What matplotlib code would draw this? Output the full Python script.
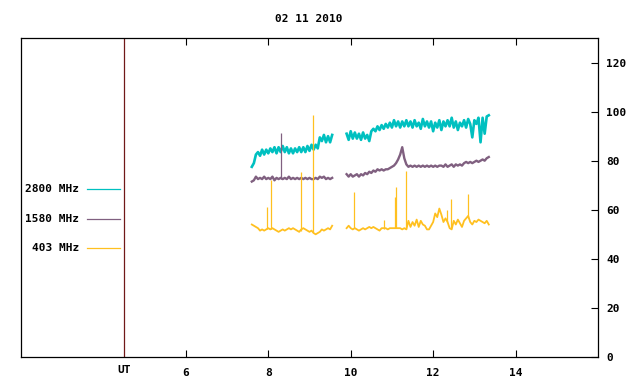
import numpy as np
import matplotlib
matplotlib.use("Agg")
import matplotlib.pyplot as plt
import matplotlib.transforms as mtransforms

# sampling of the two recording blocks (UT hours)
step = 0.05
start1 = 7.60
start2 = 9.90

# 2800 MHz flux, block 1 and block 2
f2800_a = [77.5, 79.0, 82.5, 83.5, 82.0, 84.5, 82.5, 84.5, 83.0, 85.0,
           83.5, 85.5, 83.0, 85.5, 83.5, 86.0, 83.5, 85.5, 83.0, 85.0,
           83.0, 85.0, 83.5, 85.5, 83.5, 85.5, 83.5, 86.0, 84.0, 86.5,
           84.5, 86.5, 85.0, 89.5, 88.0, 90.5, 87.5, 90.0, 87.5, 90.5]
f2800_b = [91.0, 88.5, 92.0, 89.0, 91.5, 89.0, 91.0, 88.5, 91.5, 89.0,
           90.5, 88.0, 92.0, 93.0, 92.0, 94.0, 92.5, 94.5, 93.0, 95.0,
           93.5, 95.5, 93.5, 96.5, 94.0, 96.0, 93.5, 96.0, 94.0, 96.5,
           94.0, 96.0, 93.5, 96.5, 94.0, 95.5, 93.0, 97.0, 94.0, 96.0,
           93.5, 96.0, 92.0, 95.5, 93.5, 96.5, 92.5, 96.0, 94.0, 96.5,
           94.0, 97.5, 93.5, 96.0, 92.5, 95.5, 94.0, 96.5, 93.5, 97.0,
           95.0, 89.5, 96.5, 95.0, 97.5, 87.5, 97.5, 91.0, 98.0, 98.5]

# 1580 MHz flux
f1580_a = [71.5, 72.0, 73.5, 72.5, 73.0, 72.5, 73.5, 72.5, 73.0, 72.5,
           73.5, 72.0, 73.0, 72.5, 73.0, 72.5, 73.0, 72.5, 73.5, 72.5,
           73.0, 72.5, 73.0, 72.5, 73.0, 72.5, 73.0, 72.5, 73.0, 72.5,
           72.5, 73.0, 72.5, 73.5, 73.0, 73.5, 72.5, 73.0, 72.5, 73.0]
f1580_b = [74.5, 73.5, 74.5, 73.5, 74.0, 74.5, 73.5, 74.5, 74.0, 75.0,
           74.5, 75.5, 75.0, 76.0, 75.5, 76.5, 76.0, 76.5, 76.0, 76.5,
           76.5, 77.0, 77.5, 78.0, 79.0, 80.5, 82.5, 85.5, 81.0, 78.5,
           77.5, 78.0, 77.5, 78.0, 77.5, 78.0, 77.5, 78.0, 77.5, 78.0,
           77.5, 78.0, 77.5, 78.0, 77.5, 78.0, 78.0, 77.5, 78.5, 77.5,
           78.0, 78.5, 77.5, 78.5, 78.0, 78.5, 78.0, 79.0, 79.5, 79.0,
           79.5, 79.0, 79.5, 80.0, 79.5, 80.0, 80.5, 80.0, 81.0, 81.5]

# 403 MHz flux
f403_a = [54.0, 53.5, 53.0, 52.5, 51.5, 52.0, 51.5, 52.0, 52.5, 52.0,
          52.5, 52.0, 51.5, 51.0, 51.5, 52.0, 51.5, 52.0, 52.5, 52.0,
          52.5, 52.0, 51.5, 51.0, 52.0, 52.5, 52.0, 51.5, 51.0, 51.5,
          50.5, 50.0, 50.5, 51.0, 52.0, 51.5, 52.0, 52.5, 52.0, 53.5]
f403_b = [52.5, 53.5, 52.5, 52.0, 52.5, 52.0, 51.5, 52.0, 52.5, 52.0,
          52.5, 53.0, 52.5, 53.0, 52.5, 52.0, 51.5, 52.5, 52.5, 52.5,
          52.0, 52.5, 52.5, 52.5, 52.5, 52.5, 52.5, 52.0, 52.5, 52.0,
          55.5, 53.0, 55.0, 53.5, 56.0, 53.0, 55.5, 54.0, 53.5, 52.0,
          52.0, 53.5, 55.0, 58.5, 57.0, 60.5, 58.0, 55.0, 56.5, 55.0,
          52.5, 52.0, 55.5, 54.0, 56.0, 54.5, 53.0, 55.5, 56.5, 57.5,
          55.0, 54.0, 55.5, 55.0, 56.0, 55.5, 55.0, 54.5, 55.5, 54.0]

# single-sample bursts: time, base, top
spk403_t = [7.98, 8.06, 8.79, 9.09, 10.08, 10.81, 11.08, 11.10, 11.35, 12.33, 12.44, 12.84]
spk403_lo = [52.0, 52.0, 51.5, 51.0, 52.5, 52.0, 52.5, 52.5, 52.0, 55.0, 52.5, 56.5]
spk403_hi = [61.0, 72.1, 75.4, 98.5, 67.2, 56.0, 65.1, 69.2, 75.8, 60.0, 64.2, 66.6]
spk1580_t = [8.30]
spk1580_lo = [72.5]
spk1580_hi = [91.4]

labels = ["2800 MHz", "1580 MHz", "403 MHz"]
colors = ["#00c0c0", "#806080", "#ffc020"]
widths = [1.9, 1.7, 1.3]

title = "02 11 2010"
xticks = [6, 8, 10, 12, 14]
yticks = [0, 20, 40, 60, 80, 100, 120]


def times(start, vals):
    return start + step * np.arange(len(vals))


plt.rcParams["font.family"] = "DejaVu Sans Mono"
plt.rcParams["font.weight"] = "bold"
plt.rcParams["font.size"] = 8

fig = plt.figure(figsize=(6.4, 3.84), dpi=100)
ax = fig.add_axes([21 / 640, 27 / 384, 577 / 640, 319 / 384])

series = [(f2800_a, f2800_b), (f1580_a, f1580_b), (f403_a, f403_b)]
for (a, b), c, w in zip(series, colors, widths):
    ax.plot(times(start1, a), a, color=c, lw=w)
    ax.plot(times(start2, b), b, color=c, lw=w)

ax.vlines(spk403_t, spk403_lo, spk403_hi, color=colors[2], lw=0.9)
ax.vlines(spk1580_t, spk1580_lo, spk1580_hi, color=colors[1], lw=0.9)

# UT marker line
ax.axvline(4.5, color="#701818", lw=0.9)

# legend drawn gnuplot style at the left
for i, (lab, c) in enumerate(zip(labels, colors)):
    yy = 68.3 - 11.9 * i
    ax.text(3.41, yy, lab, ha="right", va="center", fontsize=8)
    ax.plot([3.61, 4.41], [yy, yy], color=c, lw=0.9)

ax.set_xlim(2, 16)
ax.set_ylim(0, 130)
ax.set_xticks(xticks)
ax.set_yticks(yticks)
ax.yaxis.tick_right()
ax.tick_params(axis="y", direction="in", length=5, width=0.8, left=False, right=True, pad=6)
ax.tick_params(axis="x", direction="in", length=5, width=0.8, top=True, bottom=True, pad=8)

trans = mtransforms.blended_transform_factory(ax.transData, ax.transAxes)
ax.text(4.5, -0.025, "UT", transform=trans, ha="center", va="top", fontsize=8)

fig.text(309 / 640, 1 - 19 / 384, title, ha="center", va="center", fontsize=8)

for s in ax.spines.values():
    s.set_linewidth(0.9)

fig.savefig("out.png", dpi=100)
